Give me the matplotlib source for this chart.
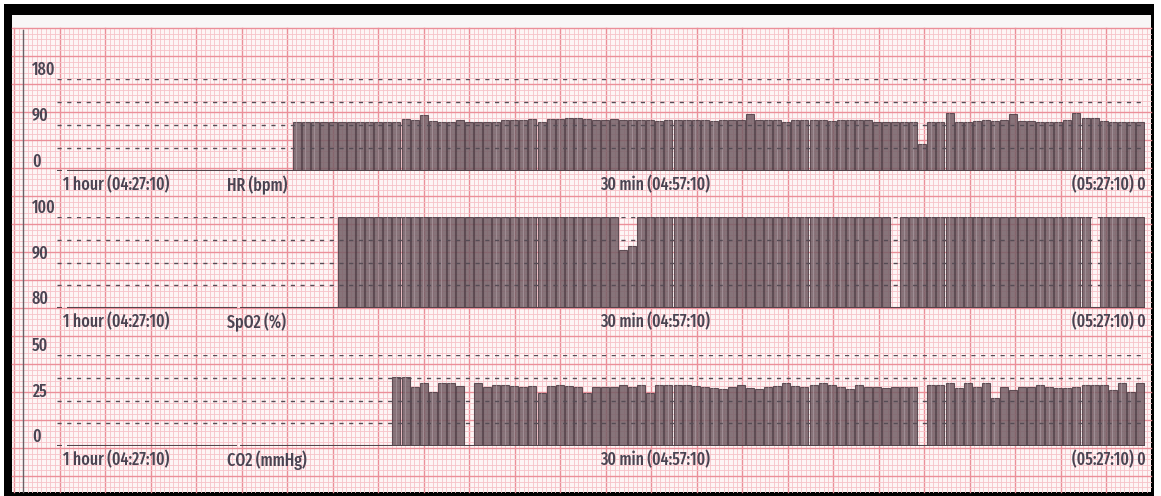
import numpy as np
import matplotlib
matplotlib.use('Agg')
from matplotlib import pyplot as plt
from matplotlib import font_manager
from matplotlib.patches import Rectangle

W, H = 1161, 496

# trend data, one bar per 30 s, time in minutes before the end of the record
hr_start = -47.0
hr_values = [96, 96, 95, 96, 96, 95, 95, 95, 95, 95, 95, 96, 101, 100, 110, 98,
             96, 96, 100, 96, 95, 95, 96, 99, 99, 99, 101, 95, 102, 102, 103,
             103, 102, 100, 100, 102, 100, 100, 99, 100, 98, 99, 100, 99, 99, 100, 98,
             99, 100, 100, 111, 99, 100, 100, 96, 99, 99, 99, 100, 98, 99, 100, 99, 100,
             96, 96, 96, 96, 96, 53,
             95, 96, 113, 96, 96, 98, 99, 98, 99, 112, 97, 97, 96, 96, 96, 99,
             113, 104, 103, 97, 96, 96, 96, 96]

nan = np.nan
spo2_start = -44.5
spo2_values = [100, 100, 100, 100, 100, 100, 100, 100, 100, 100,
               100, 100, 100, 100, 100, 100, 100, 100, 100, 100,
               100, 100, 100, 100, 100, 100, 100, 100, 100, 100,
               100, 92.7, 93.6, 100, 100, 100, 100, 100, 100, 100,
               100, 100, 100, 100, 100, 100, 100, 100, 100, 100,
               100, 100, 100, 100, 100, 100, 100, 100, 100, 100,
               100, nan, 100, 100, 100, 100, 100, 100, 100, 100,
               100, 100, 100, 100, 100, 100, 100, 100, 100, 100,
               100, 100, 100, nan, 100, 100, 100, 100, 100]

co2_start = -41.5
co2_values = [37.7, 37.7, 32.2, 34.8, 29.9, 34.8, 34.8, 32.9, nan, 34.8,
              32.2, 33.7, 33.7, 32.9, 32.2, 32.9, 29.0, 32.9, 33.7, 32.9,
              32.2, 29.3, 32.2, 32.2, 32.2, 33.7, 32.2, 33.5, 29.0, 33.5,
              33.5, 33.5, 33.5, 33.0, 32.2, 31.7, 31.1, 32.2, 33.5, 31.7,
              31.1, 32.2, 33.0, 34.8, 33.0, 32.2, 33.5, 34.8, 33.5, 32.2,
              31.1, 33.5, 32.2, 32.6, 31.7, 32.6, 32.6, 32.6, nan, 33.5,
              33.5, 34.4, 31.7, 34.4, 32.6, 34.4, 26.2, 32.6, 30.8, 32.6,
              32.6, 33.5, 32.6, 31.7, 31.7, 32.6, 33.5, 33.5, 33.5, 30.8,
              34.4, 29.9, 34.4]

hr_ticks = [180, 90, 0]
spo2_ticks = [100, 90, 80]
co2_ticks = [50, 25, 0]
hr_dashes = [45, 90, 135, 180]
spo2_dashes = [85, 90, 95, 100]
co2_dashes = [12.5, 25, 37.5, 50]
time_pos = [-60, -30, 0]
time_labels = ['1 hour (04:27:10)', '30 min (04:57:10)', '(05:27:10) 0']
names = ['HR (bpm)', 'SpO2 (%)', 'CO2 (mmHg)']

# narrow printer-like font if one is installed
files = sorted(f.fname for f in font_manager.fontManager.ttflist)
fp = None
for pats, size in [(['ExtraCondensed', 'Medium'], 12.5), (['ExtraCondensed', 'SemiBold'], 12.5),
                   (['ExtraCondensed', 'Regular'], 12.5), (['Narrow', 'Bold'], 11),
                   (['Narrow'], 11), (['Condensed', 'Medium'], 11),
                   (['Condensed', 'SemiBold'], 11), (['Condensed', 'Bold'], 9.5),
                   (['Condensed'], 9.5)]:
    hits = [f for f in files if all(p in f.split('/')[-1] for p in pats)
            and 'Italic' not in f and 'Oblique' not in f]
    if hits:
        fp = font_manager.FontProperties(fname=hits[0], size=size)
        break
if fp is None:
    fp = font_manager.FontProperties(family='DejaVu Sans', size=9)
ink = '#4a4452'

fig = plt.figure(figsize=(W / 100, H / 100), dpi=100)

# paper, border and grid
bg = fig.add_axes([0, 0, 1, 1])
bg.set_xlim(0, W)
bg.set_ylim(H, 0)
bg.axis('off')
bg.add_patch(Rectangle((4, 4), 1150, 492, color='black', lw=0))
bg.add_patch(Rectangle((12, 15), 1139, 477, color='#fdf5f5', lw=0))
bg.add_patch(Rectangle((12, 15), 1139, 13, color='#f8f6f6', lw=0))
for i, x in enumerate(np.arange(14, 1151, 4.55)):
    major = i % 10 == 0
    bg.plot([x, x], [28, 492], color='#eb8f99' if major else '#f6c2c8',
            lw=1.0 if major else 0.6, zorder=1)
for i, y in enumerate(np.arange(28, 492, 5.6)):
    major = i % 5 == 0
    bg.plot([12, 1151], [y, y], color='#eb8f99' if major else '#f6c2c8',
            lw=1.0 if major else 0.6, zorder=1)
bg.plot([23, 23], [30, 492], color='#6a6066', lw=1.0, zorder=2)


def panel(top, bottom, ylim, start, values, ticks, dashes, name):
    ax = fig.add_axes([57 / W, 1 - bottom / H, (1145 - 57) / W, (bottom - top) / H])
    ax.set_xlim(-60, 0)
    ax.set_ylim(*ylim)
    ax.axis('off')
    ax.patch.set_alpha(0)
    base = ylim[0]
    t = start + 0.5 * np.arange(len(values))
    v = np.array(values, dtype=float)
    ax.bar(t, v - base, bottom=base, width=0.44, align='edge',
           color='#745f66', edgecolor='#4f3d45', lw=0.8, alpha=0.86, zorder=3)
    # lighter seam in the middle of each printed column
    ax.bar(t + 0.2, v - base, bottom=base, width=0.04, align='edge',
           color='#b3a3aa', lw=0, alpha=0.55, zorder=3.5)
    for d in dashes:
        ax.axhline(d, color='#564c55', lw=1.0, ls=(0, (3, 4)), zorder=4)
    ax.hlines(base, -60, -59.72, color='#54444b', lw=1.5, zorder=4)
    ax.hlines(base, -59.45, -50.05, color='#54444b', lw=1.5, zorder=4)
    ax.hlines(base, -49.9, 0, color='#54444b', lw=1.5, zorder=4)
    for tk in ticks:
        ax.annotate(str(tk), xy=(0, tk), xycoords=('axes fraction', 'data'),
                    xytext=(-25, 9), textcoords='offset pixels', ha='left',
                    va='center', color=ink, fontproperties=fp)
    for pos, lab in zip(time_pos, time_labels):
        ha = 'right' if pos == 0 else 'left'
        dx = 1 if pos == 0 else (6 if pos == -60 else -1)
        ax.annotate(lab, xy=(pos, 0), xycoords=('data', 'axes fraction'),
                    xytext=(dx, -14), textcoords='offset pixels', ha=ha,
                    va='center', color=ink, fontproperties=fp)
    ax.annotate(name, xy=(0, 0), xycoords='axes fraction', xytext=(170, -14),
                textcoords='offset pixels', ha='left', va='center',
                color=ink, fontproperties=fp)
    return ax


panel(79, 171, (0, 180), hr_start, hr_values, hr_ticks, hr_dashes, names[0])
panel(217, 308, (80, 100), spo2_start, spo2_values, spo2_ticks, spo2_dashes, names[1])
panel(355, 446, (0, 50), co2_start, co2_values, co2_ticks, co2_dashes, names[2])

plt.savefig('out.png', dpi=100)
